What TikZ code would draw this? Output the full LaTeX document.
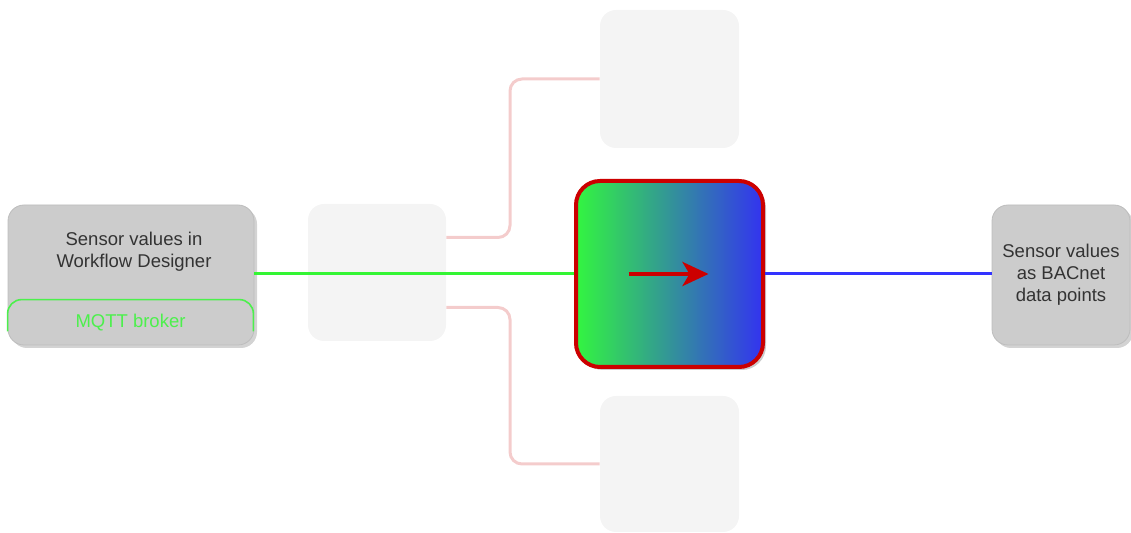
\documentclass[tikz,border=0pt]{standalone}
\usepackage{fontspec}
\setmainfont{Liberation Sans}
\usetikzlibrary{shadows,calc,arrows.meta}
\definecolor{boxgray}{HTML}{CCCCCC}
\definecolor{boxedge}{HTML}{BDBDBD}
\definecolor{ghost}{HTML}{F4F4F4}
\definecolor{pinkl}{HTML}{F4CCCC}
\definecolor{greenl}{HTML}{33F533}
\definecolor{mqttg}{HTML}{4CF04C}
\definecolor{bluel}{HTML}{3333FF}
\definecolor{redb}{HTML}{CC0000}
\definecolor{gleft}{HTML}{33F540}
\definecolor{gright}{HTML}{3333F0}
\definecolor{txt}{HTML}{333333}
\tikzset{
  graybox/.style={draw=boxedge, line width=0.4pt, fill=boxgray, rounded corners=8pt,
    drop shadow={shadow xshift=1.5pt, shadow yshift=-1.5pt, opacity=0.35},
    align=center, text=txt, font=\fontsize{9.25pt}{11pt}\selectfont, inner sep=0pt},
  ghostbox/.style={fill=ghost, rounded corners=8pt, inner sep=0pt},
  pinkline/.style={draw=pinkl, line width=1.5pt, rounded corners=6pt},
  flowgreen/.style={draw=greenl, line width=1.5pt},
  flowblue/.style={draw=bluel, line width=1.5pt},
  convbox/.style={draw=redb, line width=2pt, rounded corners=12pt,
    left color=gleft, right color=gright,
    drop shadow={shadow xshift=1.5pt, shadow yshift=-1.5pt, opacity=0.4}, inner sep=0pt},
}
\begin{document}
\begin{tikzpicture}[x=0.5pt, y=-0.5pt]
\useasboundingbox (0,0) rectangle (1131,533);
% left box
\node[graybox, minimum width=123pt, minimum height=70pt] (L) at (131,275) {};
\node[align=center, text=txt, font=\fontsize{9.25pt}{11pt}\selectfont] (Ltext) at (134,252) {Sensor values in\\Workflow Designer};
\node[inner sep=0pt, minimum width=122.5pt, minimum height=22.5pt, text=mqttg, font=\fontsize{9.25pt}{11pt}\selectfont] (M) at (130.5,322.5) {MQTT broker};
\draw[draw=mqttg, line width=0.8pt, rounded corners=7pt] ($(M.south west)+(0,-14)$) |- (M.north) -| ($(M.south east)+(0,-14)$);
% ghost boxes
\node[ghostbox, minimum width=69pt, minimum height=68.5pt] (S) at (377,272.5) {};
\node[ghostbox, minimum width=69.5pt, minimum height=69pt] (T) at (669.5,79) {};
\node[ghostbox, minimum width=69.5pt, minimum height=68pt] (B) at (669.5,464) {};
\coordinate (jx) at (510,0);
\draw[pinkline] ($(S.east)+(0,-35)$) -| (jx |- T.west) -- (T.west);
\draw[pinkline] ($(S.east)+(0,35)$) -| (jx |- B.west) -- (B.west);
% converter
\node[convbox, minimum width=93.5pt, minimum height=93pt] (C) at (669.5,274) {};
\coordinate (a1) at ($(C.center)+(-41,0)$);
\coordinate (a2) at ($(C.center)+(39,0)$);
\draw[draw=redb, line width=2pt, -{Stealth[length=13pt, width=12pt, inset=3.5pt]}] (a1) -- (a2);
% right box
\node[graybox, minimum width=69pt, minimum height=70pt] (R) at (1061,275) {Sensor values\\as BACnet\\data points};
% connectors
\draw[flowgreen] (L.east |- C.west) -- (C.west);
\draw[flowblue] (C.east) -- (R.west |- C.east);
\end{tikzpicture}
\end{document}
